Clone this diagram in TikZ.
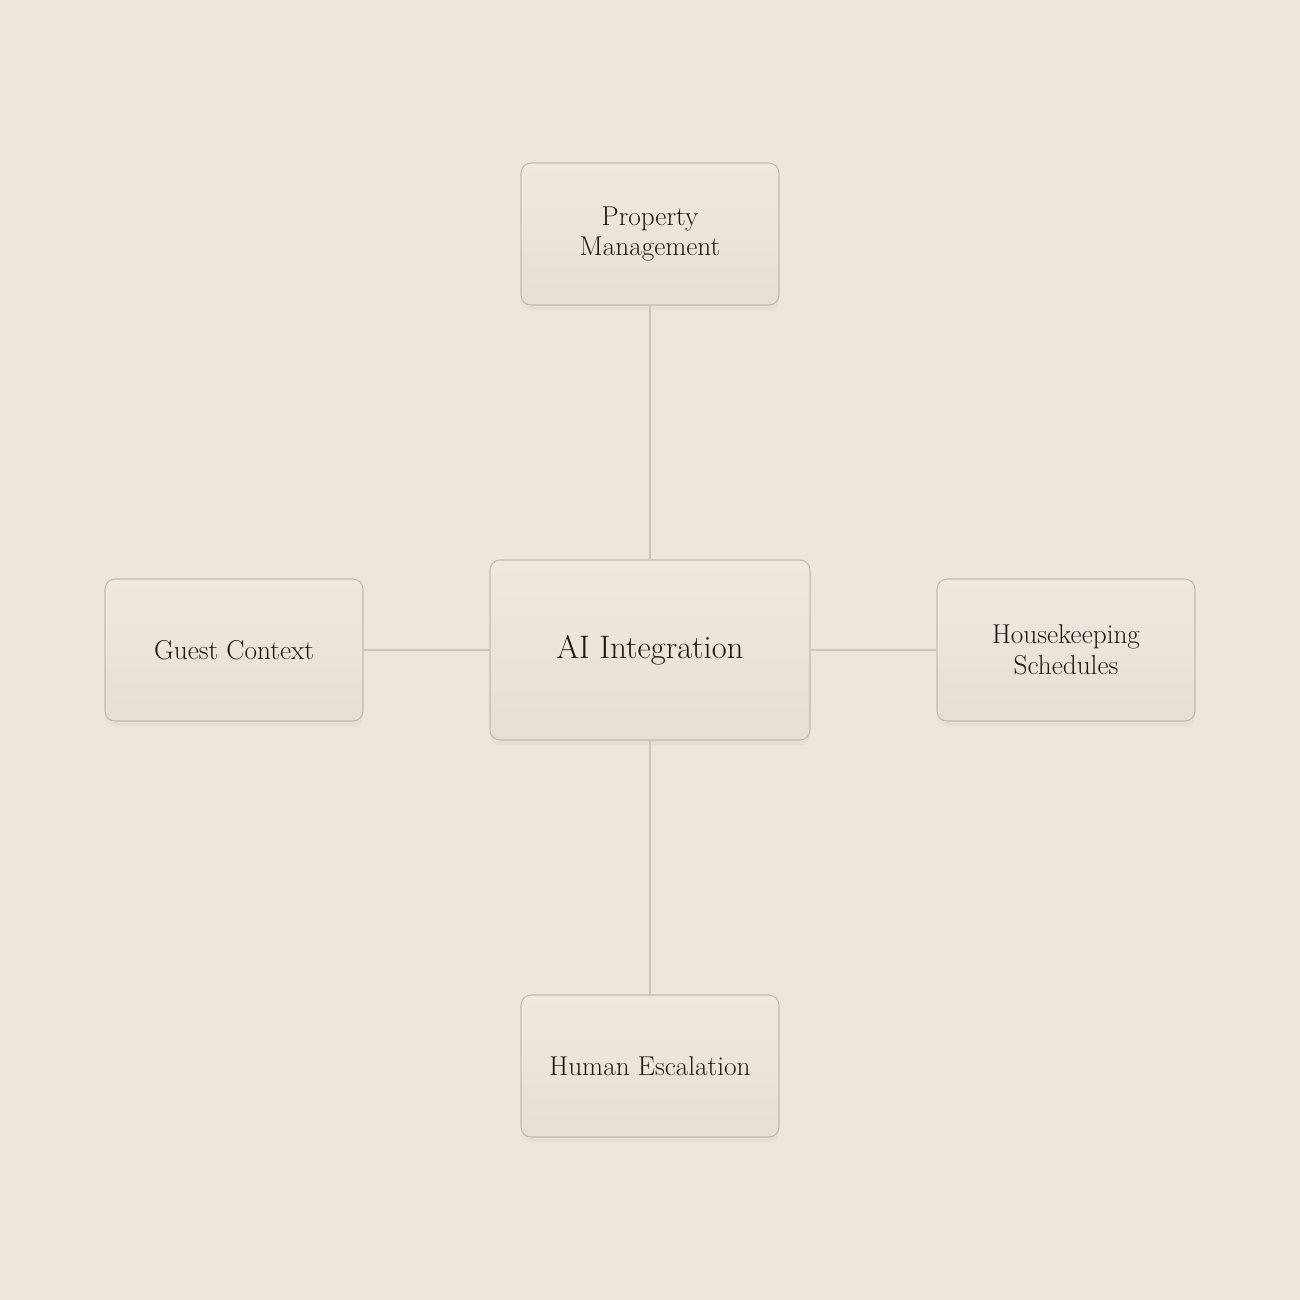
\documentclass[tikz,border=0pt]{standalone}
\usepackage{xcolor}
\usepackage{tikz}
\usetikzlibrary{positioning,shadows,calc}

\definecolor{paper}{HTML}{EEE5DB}
\definecolor{boxtop}{HTML}{F0E8DF}
\definecolor{boxbot}{HTML}{E8DFD3}
\definecolor{boxline}{HTML}{C3BAB0}
\definecolor{wire}{HTML}{CFC6BC}
\definecolor{ink}{HTML}{1E1915}

\begin{document}
\begin{tikzpicture}[
    card/.style={draw=boxline, line width=0.6pt, rounded corners=0.2cm,
        top color=boxtop, bottom color=boxbot, text=ink, align=center,
        minimum width=5.16cm, minimum height=2.84cm, inner sep=0pt,
        font=\fontsize{15.5}{17.5}\selectfont,
        drop shadow={opacity=0.06, shadow xshift=0pt, shadow yshift=-3pt}},
    hub/.style={card, minimum width=6.4cm, minimum height=3.6cm,
        font=\fontsize{18.5}{22}\selectfont},
    link/.style={draw=wire, line width=0.6pt}
]
    % Background
    \fill[paper] (0,0) rectangle (26,-26);
    \useasboundingbox (0,0) rectangle (26,-26);

    % Hub
    \node[hub] (ai) at (13,-13) {AI Integration};

    % Satellites
    \node[card] (pms) at (13,-4.68) {Property\\Management};
    \node[card] (guest) at (4.68,-13) {Guest Context};
    \node[card] (house) at (21.32,-13) {Housekeeping\\Schedules};
    \node[card] (human) at (13,-21.32) {Human Escalation};

    % Links
    \draw[link] (pms) -- (ai);
    \draw[link] (guest) -- (ai);
    \draw[link] (ai) -- (house);
    \draw[link] (ai) -- (human);
\end{tikzpicture}
\end{document}
